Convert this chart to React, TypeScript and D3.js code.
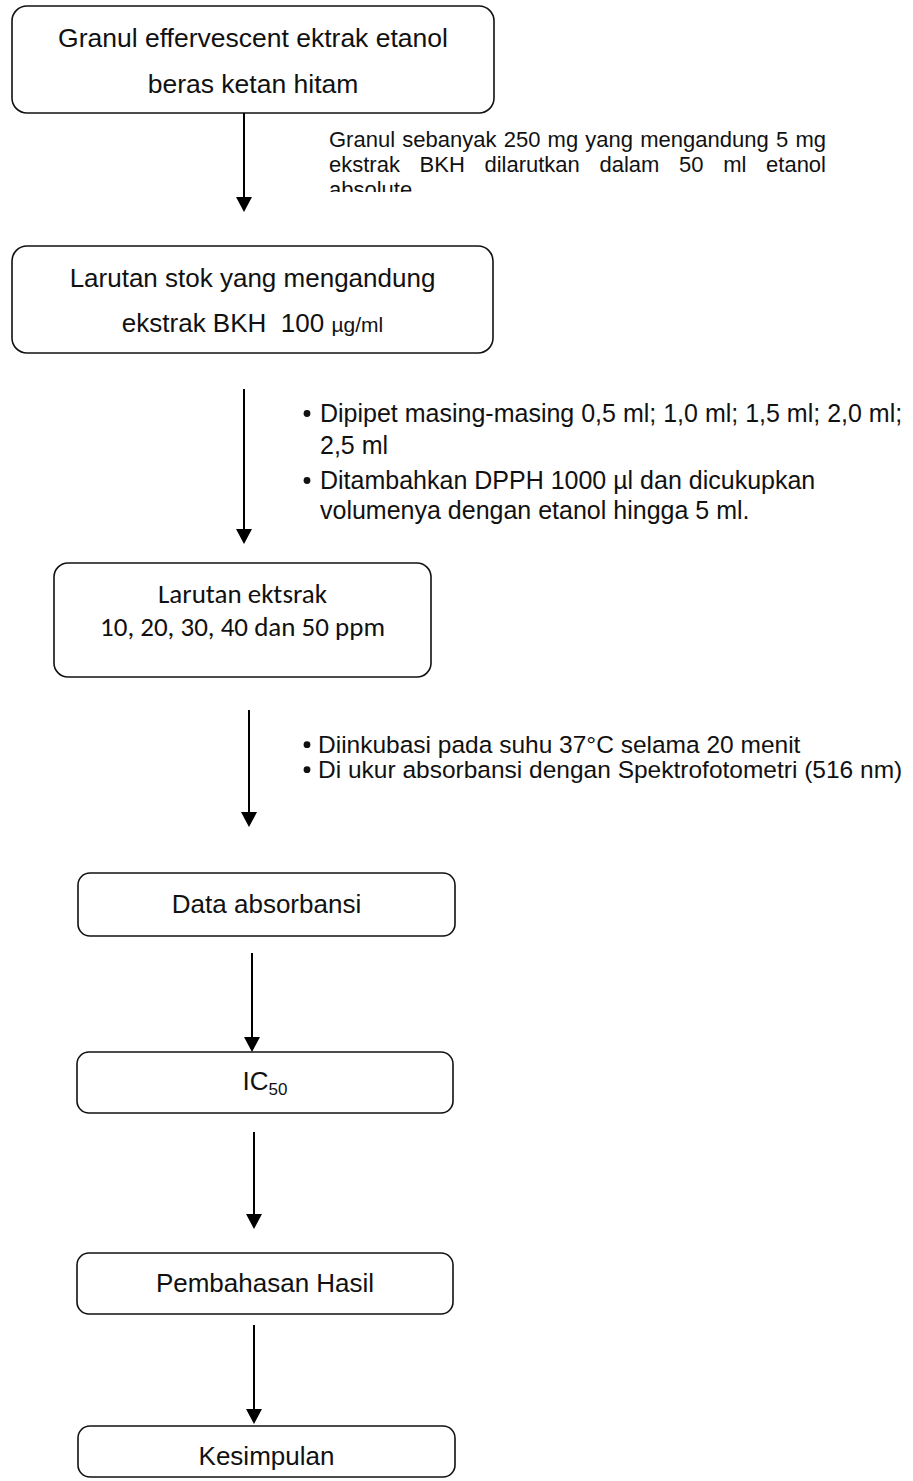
import React, { useEffect, useRef } from 'react';
import * as d3 from 'd3';

const W = 913;
const H = 1481;

// box labels, one entry per line; each line is a list of segments
type Seg = { t: string; kind?: 'small' | 'sub' };
const boxLabels: Seg[][][] = [
  [[{ t: 'Granul effervescent ektrak etanol' }], [{ t: 'beras ketan hitam' }]],
  [[{ t: 'Larutan stok yang mengandung' }], [{ t: 'ekstrak BKH\u00a0 100 ' }, { t: 'µg/ml', kind: 'small' }]],
  [[{ t: 'Larutan ektsrak' }], [{ t: '10, 20, 30, 40 dan 50 ppm' }]],
  [[{ t: 'Data absorbansi' }]],
  [[{ t: 'IC' }, { t: '50', kind: 'sub' }]],
  [[{ t: 'Pembahasan Hasil' }]],
  [[{ t: 'Kesimpulan' }]],
];

const noteLines = [
  'Granul sebanyak 250 mg yang mengandung 5 mg',
  'ekstrak BKH dilarutkan dalam 50 ml etanol',
  'absolute',
];

const bulletsA = [
  ['Dipipet masing-masing 0,5 ml; 1,0 ml; 1,5 ml; 2,0 ml;', '2,5 ml'],
  ['Ditambahkan DPPH 1000 µl dan dicukupkan', 'volumenya dengan etanol hingga 5 ml.'],
];

const bulletsB = [
  ['Diinkubasi pada suhu 37°C selama 20 menit'],
  ['Di ukur absorbansi dengan Spektrofotometri (516 nm)'],
];

// layout
const boxFrames = [
  { x0: 12, x1: 494, y0: 6, y1: 113, r: 15, lines: [47, 93], font: 'arial', size: 26.5 },
  { x0: 12, x1: 493, y0: 246, y1: 353, r: 15, lines: [287, 332], font: 'arial', size: 26 },
  { x0: 54, x1: 431, y0: 563, y1: 677, r: 14, lines: [603, 636], font: 'calibri', size: 27 },
  { x0: 78, x1: 455, y0: 873, y1: 936, r: 12, lines: [913], font: 'arial', size: 26 },
  { x0: 77, x1: 453, y0: 1052, y1: 1113, r: 12, lines: [1090], font: 'arial', size: 26 },
  { x0: 77, x1: 453, y0: 1253, y1: 1314, r: 12, lines: [1292], font: 'arial', size: 26 },
  { x0: 78, x1: 455, y0: 1426, y1: 1477, r: 12, lines: [1465], font: 'arial', size: 26 },
];

const arrows = [
  { x: 244, y0: 113, y1: 212 },
  { x: 244, y0: 389, y1: 544 },
  { x: 249, y0: 710, y1: 827 },
  { x: 252, y0: 953, y1: 1052 },
  { x: 254, y0: 1132, y1: 1229 },
  { x: 254, y0: 1325, y1: 1424 },
];

const ARIAL = '"Liberation Sans", Arial, sans-serif';
const CALIBRI = 'Carlito, Lato, "Open Sans", sans-serif';

const note = { left: 329, right: 826, top: 147, step: 25, clipY: 192, size: 22 };
const bulletA = { dotX: 307, textX: 320, baselines: [[422, 454], [489, 519]], size: 25 };
const bulletB = { dotX: 307, textX: 318, baselines: [[753], [778]], size: 24.5 };

export default function App() {
  const noteRef = useRef<SVGGElement>(null);

  useEffect(() => {
    if (!noteRef.current) return;
    const g = d3.select(noteRef.current);
    g.selectAll('*').remove();
    const space = note.size * 0.278;
    noteLines.forEach((line, i) => {
      const words = line.split(' ');
      const y = note.top + i * note.step;
      const texts = words.map(w =>
        g.append('text')
          .attr('y', y)
          .attr('font-family', ARIAL)
          .attr('font-size', note.size)
          .attr('fill', '#111')
          .text(w)
      );
      const widths = texts.map(t => (t.node() as SVGTextElement).getComputedTextLength());
      const total = d3.sum(widths);
      const justify = i < noteLines.length - 1 && words.length > 1;
      const gap = justify ? (note.right - note.left - total) / (words.length - 1) : space;
      let x = note.left;
      texts.forEach((t, j) => {
        t.attr('x', x);
        x += widths[j] + gap;
      });
    });
  }, []);

  const arrowHead = (a: { x: number; y1: number }) => {
    const p = d3.path();
    p.moveTo(a.x - 8, a.y1 - 15);
    p.lineTo(a.x + 8, a.y1 - 15);
    p.lineTo(a.x, a.y1);
    p.closePath();
    return p.toString();
  };

  const renderBullets = (
    groups: string[][],
    cfg: { dotX: number; textX: number; baselines: number[][]; size: number }
  ) =>
    groups.map((lines, gi) => (
      <g key={gi}>
        <circle cx={cfg.dotX} cy={cfg.baselines[gi][0] - cfg.size * 0.34} r={3.4} fill="#111" />
        {lines.map((ln, li) => (
          <text
            key={li}
            x={cfg.textX}
            y={cfg.baselines[gi][li]}
            fontFamily={ARIAL}
            fontSize={cfg.size}
            fill="#111"
          >
            {ln}
          </text>
        ))}
      </g>
    ));

  return (
    <div style={{ position: 'absolute', left: 0, top: 0 }}>
      <svg width={W} height={H} style={{ display: 'block', background: '#fff' }}>
        <defs>
          <clipPath id="noteClip">
            <rect x={0} y={0} width={W} height={note.clipY} />
          </clipPath>
        </defs>
        <rect x={0} y={0} width={W} height={H} fill="#fff" />

        {boxFrames.map((b, i) => {
          const cx = (b.x0 + b.x1) / 2;
          const fam = b.font === 'calibri' ? CALIBRI : ARIAL;
          return (
            <g key={i}>
              <rect
                x={b.x0}
                y={b.y0}
                width={b.x1 - b.x0}
                height={b.y1 - b.y0}
                rx={b.r}
                ry={b.r}
                fill="#fff"
                stroke="#111"
                strokeWidth={1.6}
              />
              {boxLabels[i].map((segs, li) => (
                <text
                  key={li}
                  x={cx}
                  y={b.lines[li]}
                  textAnchor="middle"
                  fontFamily={fam}
                  fontSize={b.size}
                  fill="#111"
                >
                  {segs.map((s, si) => (
                    <tspan
                      key={si}
                      fontSize={s.kind === 'small' ? 21 : s.kind === 'sub' ? 17 : undefined}
                      dy={s.kind === 'sub' ? 5 : undefined}
                    >
                      {s.t}
                    </tspan>
                  ))}
                </text>
              ))}
            </g>
          );
        })}

        {arrows.map((a, i) => (
          <g key={i}>
            <line x1={a.x} y1={a.y0} x2={a.x} y2={a.y1 - 12} stroke="#000" strokeWidth={2} />
            <path d={arrowHead(a)} fill="#000" />
          </g>
        ))}

        <g ref={noteRef} clipPath="url(#noteClip)" />

        {renderBullets(bulletsA, bulletA)}
        {renderBullets(bulletsB, bulletB)}
      </svg>
    </div>
  );
}
